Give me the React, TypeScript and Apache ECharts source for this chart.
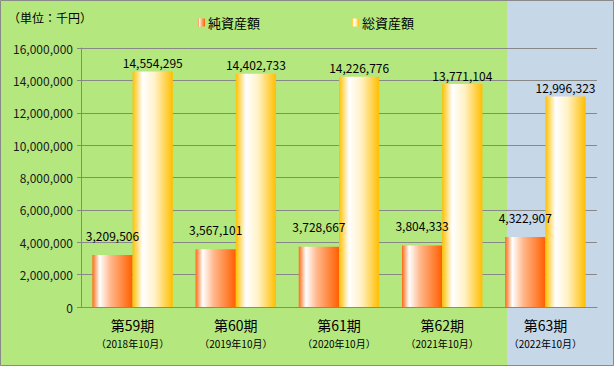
import React, { useEffect, useRef } from "react";
import * as echarts from "echarts";

const periods = ["第59期", "第60期", "第61期", "第62期", "第63期"];
const dates = ["2018年10月", "2019年10月", "2020年10月", "2021年10月", "2022年10月"];
const netAssets = [3209506, 3567101, 3728667, 3804333, 4322907];
const totalAssets = [14554295, 14402733, 14226776, 13771104, 12996323];
const seriesNames = ["純資産額", "総資産額"];
const unitLabel = "（単位：千円）";

const FONT = "'Noto Sans CJK JP', 'Noto Sans', sans-serif";

export default function App() {
  const ref = useRef<HTMLDivElement>(null);
  useEffect(() => {
    document.body.style.margin = "0";
    const chart = echarts.init(ref.current!, null, { renderer: "svg" });
    const orange = new echarts.graphic.LinearGradient(0, 0, 1, 0, [
      { offset: 0, color: "#FF6A14" },
      { offset: 0.18, color: "#FFFFFF" },
      { offset: 0.45, color: "#FFB88C" },
      { offset: 1, color: "#FF5F00" },
    ]);
    const yellow = new echarts.graphic.LinearGradient(0, 0, 1, 0, [
      { offset: 0, color: "#FFC000" },
      { offset: 0.25, color: "#FFFFFF" },
      { offset: 0.55, color: "#FFF2C8" },
      { offset: 1, color: "#FFBE00" },
    ]);
    chart.setOption({
      animation: false,
      backgroundColor: "#B5E77F",
      textStyle: { fontFamily: FONT },
      graphic: [
        {
          type: "rect",
          z: -10,
          shape: { x: 507, y: 0, width: 107, height: 366 },
          style: { fill: "#C6D7E8" },
          silent: true,
        },
        {
          type: "rect",
          z: 100,
          shape: { x: 0.5, y: 0.5, width: 613, height: 365 },
          style: { fill: "none", stroke: "#8A8A8A", lineWidth: 1 },
          silent: true,
        },
        {
          type: "text",
          left: 8,
          top: 11,
          style: { text: unitLabel, fontSize: 12, fill: "#000", fontFamily: FONT },
        },
      ],
      legend: {
        top: 11,
        left: 193,
        itemGap: 92,
        itemWidth: 7,
        itemHeight: 8,
        icon: "rect",
        textStyle: { fontSize: 13, color: "#000", padding: [0, 0, 0, -2] },
        data: seriesNames,
      },
      grid: { left: 81, right: 17, top: 48, bottom: 59 },
      xAxis: {
        type: "category",
        data: periods.map((p, i) => `{a|${p}}\n{b|（${dates[i]}）}`),
        axisLine: { lineStyle: { color: "#888", width: 1 } },
        axisTick: { length: 5, lineStyle: { color: "#888" } },
        axisLabel: {
          interval: 0,
          margin: 7,
          rich: {
            a: { fontSize: 14, color: "#000", lineHeight: 21, fontFamily: FONT },
            b: { fontSize: 10, color: "#000", lineHeight: 17, fontFamily: FONT },
          },
        },
      },
      yAxis: {
        type: "value",
        min: 0,
        max: 16000000,
        interval: 2000000,
        axisLine: { show: true, lineStyle: { color: "#888" } },
        axisTick: { show: true, length: 4, lineStyle: { color: "#888" } },
        splitLine: { lineStyle: { color: "#888", width: 1 } },
        axisLabel: {
          fontSize: 12,
          color: "#1a1a1a",
          margin: 8,
          formatter: (v: number) => v.toLocaleString("en-US"),
        },
      },
      series: [
        {
          name: seriesNames[0],
          type: "bar",
          data: netAssets,
          barGap: "0%",
          barCategoryGap: "22%",
          itemStyle: { color: orange },
          label: {
            show: true,
            position: "top",
            distance: 14,
            fontSize: 12,
            color: "#000",
            formatter: (p: any) => Number(p.value).toLocaleString("en-US"),
          },
        },
        {
          name: seriesNames[1],
          type: "bar",
          data: totalAssets,
          itemStyle: { color: yellow },
          label: {
            show: true,
            position: "top",
            distance: 3,
            fontSize: 12,
            color: "#000",
            formatter: (p: any) => Number(p.value).toLocaleString("en-US"),
          },
        },
      ],
    });
    return () => chart.dispose();
  }, []);
  return <div ref={ref} style={{ width: 614, height: 366 }} />;
}
